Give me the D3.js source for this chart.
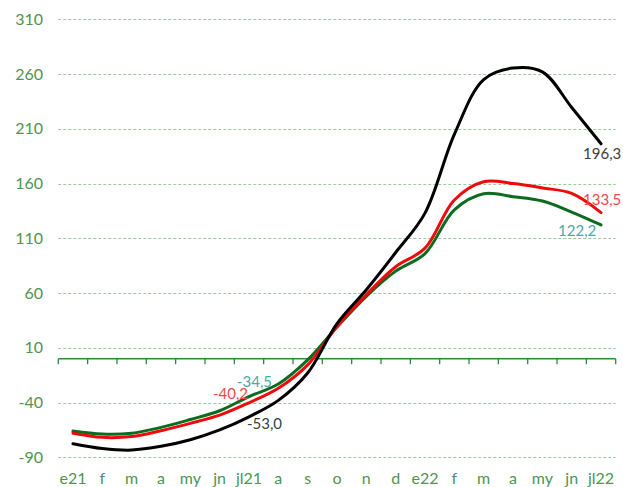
<!DOCTYPE html>
<html><head><meta charset="utf-8">
<script src="https://cdn.jsdelivr.net/npm/d3@7"></script>
<style>body{margin:0;background:#fff}svg{display:block}</style>
</head><body><svg id="c" width="623" height="487"></svg>
<script>
const categories = ["e21","f","m","a","my","jn","jl21","a","s","o","n","d","e22","f","m","a","my","jn","jl22"];
const yTicks = [-90,-40,10,60,110,160,210,260,310];
const blackSeries = [-77.6,-82,-83.4,-80,-74,-65,-53.0,-38,-13,32,63,97,133,205,255,265.5,262,229.5,196.3];
const redSeries   = [-68,-71.8,-71,-65.7,-59,-51.5,-40.2,-27,-5.6,29.5,58.5,84,101,145,161.7,160,156,151,133.5];
const greenSeries = [-66,-68.8,-68,-62.7,-55.5,-47.5,-34.5,-23,-1,29,57,80,96,136,150.7,148,144,134,122.2];
const labelTexts = [
  {series:"black", i:6, text:"-53,0"},
  {series:"red", i:6, text:"-40,2"},
  {series:"green", i:6, text:"-34,5"},
  {series:"black", i:18, text:"196,3"},
  {series:"red", i:18, text:"133,5"},
  {series:"green", i:18, text:"122,2"}
];

const svg = d3.select("#c");
const font = "Lato, 'Open Sans', sans-serif";
const x = d3.scaleBand().domain(d3.range(categories.length)).range([58.3, 615.7]);
const y = d3.scaleLinear().domain([-90, 310]).range([457.3, 19.3]);

// gridlines
svg.append("g").selectAll("line").data(yTicks).join("line")
  .attr("x1", 58.3).attr("x2", 615.7)
  .attr("y1", d => Math.round(y(d)) + 0.5).attr("y2", d => Math.round(y(d)) + 0.5)
  .attr("stroke", "#9cc89c").attr("stroke-width", 1).attr("stroke-dasharray", "3,2");

// y labels
svg.append("g").selectAll("text").data(yTicks).join("text")
  .attr("x", 43).attr("y", d => y(d) + 5.5)
  .attr("text-anchor", "end").attr("font-family", font).attr("font-size", 16)
  .attr("fill", "#4f944f").text(d => d);

// x axis at 0
const gx = svg.append("g").attr("transform", `translate(0,${y(0)})`);
gx.append("line").attr("x1", 58.3).attr("x2", 615.7).attr("y1", 0).attr("y2", 0)
  .attr("stroke", "#2f8a3a").attr("stroke-width", 1.6);
const bounds = d3.range(categories.length + 1).map(i => 58.3 + i * x.step());
gx.selectAll("line.tk").data(bounds).join("line").attr("class","tk")
  .attr("x1", d => d).attr("x2", d => d).attr("y1", 0).attr("y2", 5.5)
  .attr("stroke", "#2f8a3a").attr("stroke-width", 1.3);

svg.append("g").selectAll("text").data(categories).join("text")
  .attr("x", (d, i) => x(i) + x.bandwidth() / 2).attr("y", 484)
  .attr("text-anchor", "middle").attr("font-family", font).attr("font-size", 16)
  .attr("fill", "#4f944f").text(d => d);

// lines
const line = d3.line().x((d, i) => x(i) + x.bandwidth() / 2).y(d => y(d)).curve(d3.curveCatmullRom.alpha(0.5));
const series = {black: blackSeries, red: redSeries, green: greenSeries};
const colors = {green: "#0b6b1e", red: "#ee0a0a", black: "#000000"};
["green", "red", "black"].forEach(k => {
  svg.append("path").datum(series[k]).attr("d", line)
    .attr("fill", "none").attr("stroke", colors[k]).attr("stroke-width", 3)
    .attr("stroke-linejoin", "round").attr("stroke-linecap", "round");
});

// data labels
const labelColors = {black: "#404040", red: "#f04848", green: "#4aa8aa"};
const offsets = {
  "black6": [-2, 12.5], "red6": [-36, -3.5], "green6": [-12, -10],
  "black18": [-18, 15], "red18": [-18, -7.5], "green18": [-43, 11.5]
};
svg.append("g").selectAll("text").data(labelTexts).join("text")
  .attr("x", d => x(d.i) + x.bandwidth() / 2 + offsets[d.series + d.i][0])
  .attr("y", d => y(series[d.series][d.i]) + offsets[d.series + d.i][1])
  .attr("font-family", font).attr("font-size", 15)
  .attr("fill", d => labelColors[d.series]).text(d => d.text);
</script></body></html>
